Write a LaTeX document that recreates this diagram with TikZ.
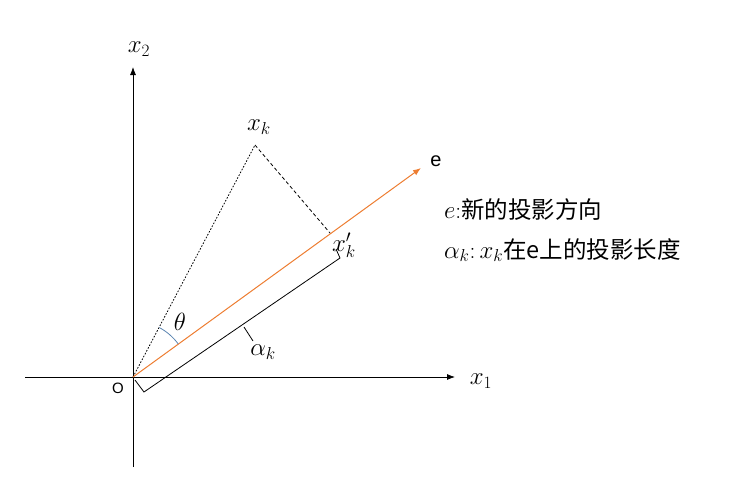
\documentclass[tikz,border=0pt]{standalone}
\usepackage{fontspec}
\setsansfont{Liberation Sans}
\newfontfamily\cjk{Noto Sans CJK SC}
\usetikzlibrary{arrows.meta}
\definecolor{eorange}{HTML}{ED7D31}
\definecolor{arcblue}{HTML}{5B84B1}
\begin{document}
\begin{tikzpicture}[x=1pt,y=-1pt,
  axis/.style={line width=0.8pt,-{Latex[length=8pt,width=6pt]}},
  lbl/.style={inner sep=0pt,font=\fontsize{24}{28}\selectfont},
  txt/.style={inner sep=0pt,anchor=west,font=\fontsize{23.5}{27}\selectfont},
  brk/.style={line width=0.8pt}]
\useasboundingbox (0,0) rectangle (732,482);
% points
\coordinate (O) at (133,377);
\coordinate (x1start) at (25,377);
\coordinate (x1end) at (455,377);
\coordinate (x2start) at (133,467);
\coordinate (x2end) at (133,67);
\coordinate (etip) at (421,168);
\coordinate (xk) at (255,145);
\coordinate (xkp) at (330,233);
\coordinate (b0) at (135,380);
\coordinate (b1) at (144,392);
\coordinate (b2) at (340,258);
\coordinate (b3) at (336,249);
\coordinate (m0) at (244,327);
\coordinate (m1) at (253,341);
% axes
\draw[axis] (x1start) -- (x1end);
\draw[axis] (x2start) -- (x2end);
% dotted and dashed
\draw[line width=0.8pt,dash pattern=on 1.6pt off 1.6pt] (O) -- (xk);
\draw[line width=0.8pt,dash pattern=on 3.5pt off 2.5pt] (xk) -- (xkp);
% e vector
\draw[eorange,line width=1pt,-{Latex[length=8pt,width=6pt]}] (O) -- (etip);
% bracket
\draw[brk] (b0) -- (b1) -- (b2) -- (b3);
\draw[brk] (m0) -- (m1);
% theta arc
\draw[arcblue,line width=0.8pt] (O) ++(-62:56) arc[start angle=-62,end angle=-36,radius=56];
% labels
\node[lbl] (lx1) at (481,381) {$x_1$};
\node[lbl] (lx2) at (139,49) {$x_2$};
\node[lbl] (lxk) at (259,127) {$x_k$};
\node[lbl] (lxkp) at (344,245) {$x_k'$};
\node[lbl] (lth) at (180,322) {$\theta$};
\node[lbl] (lak) at (263,352) {$\alpha_k$};
\node[inner sep=0pt,font=\sffamily\fontsize{20}{24}\selectfont] (le) at (436,161) {e};
\node[inner sep=0pt,font=\sffamily\fontsize{15}{18}\selectfont] (lO) at (118,388) {O};
\node[txt] (t1) at (444,210) {$e$:\cjk 新的投影方向};
\node[txt] (t2) at (444,250) {$\alpha_k$:$\,x_k$\cjk 在e上的投影长度};
\end{tikzpicture}
\end{document}
